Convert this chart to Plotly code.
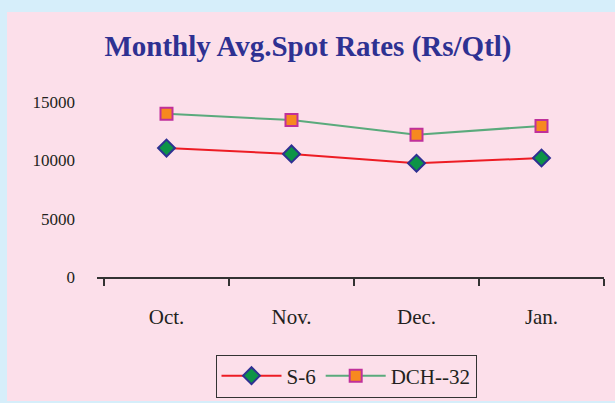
import plotly.graph_objects as go

months = ["Oct.", "Nov.", "Dec.", "Jan."]
s6 = [11050, 10550, 9750, 10200]
dch32 = [14000, 13450, 12200, 12950]
y_ticks = [0, 5000, 10000, 15000]

W, H = 615, 403
L, R, T, B = 97, 11, 102, 126
pw, ph = W - L - R, H - T - B

def px_x(px):
    return (px - L) / pw

def px_y(py):
    return (H - B - py) / ph

fig = go.Figure()
fig.add_trace(go.Scatter(
    x=months, y=s6, name="S-6", mode="lines+markers",
    line=dict(color="#ed1c24", width=2),
    marker=dict(symbol="diamond", size=13, color="#0d9447",
                line=dict(color="#2e3192", width=2)),
    cliponaxis=False,
))
fig.add_trace(go.Scatter(
    x=months, y=dch32, name="DCH--32", mode="lines+markers",
    line=dict(color="#5aaa7c", width=2),
    marker=dict(symbol="square", size=12, color="#f7891f",
                line=dict(color="#c0309a", width=2)),
    cliponaxis=False,
))

# pink panel
fig.add_shape(type="rect", xref="paper", yref="paper", layer="below",
              x0=px_x(7), x1=px_x(620), y0=px_y(401), y1=px_y(12),
              fillcolor="#fcdfea", line=dict(width=0))

fig.update_layout(
    width=W, height=H,
    margin=dict(l=L, r=R, t=T, b=B, autoexpand=False),
    paper_bgcolor="#d6eefa",
    plot_bgcolor="rgba(0,0,0,0)",
    font=dict(family="Liberation Serif", color="#231f20"),
    title=dict(text="<b>Monthly Avg.Spot Rates (Rs/Qtl)</b>",
               x=(308) / W, xanchor="center",
               y=1 - 46 / H, yanchor="middle", yref="container",
               font=dict(size=29, color="#2e3192", family="Liberation Serif")),
    showlegend=True,
    legend=dict(orientation="h", xref="container", yref="container",
                x=346 / W, y=1 - 376 / H,
                xanchor="center", yanchor="middle",
                bgcolor="#fcdfea", bordercolor="#333333", borderwidth=1,
                font=dict(size=21, family="Liberation Serif", color="#231f20"),
                itemwidth=60, tracegroupgap=0),
)
fig.update_xaxes(
    type="category", range=[-0.5 - 7 / 125, 3.5],
    tickson="boundaries", ticks="outside", ticklen=7, tickwidth=2,
    tickcolor="#333333", showline=True, linecolor="#333333", linewidth=2,
    showgrid=False, zeroline=False, automargin=False,
    tickfont=dict(size=21, family="Liberation Serif", color="#231f20"),
    ticklabelstandoff=20,
)
fig.update_yaxes(
    range=[0, 15000], tickvals=y_ticks, ticktext=[str(v) for v in y_ticks],
    showline=False, showgrid=False, zeroline=False, ticks="", automargin=False,
    tickfont=dict(size=17, family="Liberation Serif", color="#231f20"),
    ticklabelstandoff=21,
)

fig.write_html("out.html", config={"displayModeBar": False},
               post_script="document.body.style.margin='0';document.body.style.padding='0';")
